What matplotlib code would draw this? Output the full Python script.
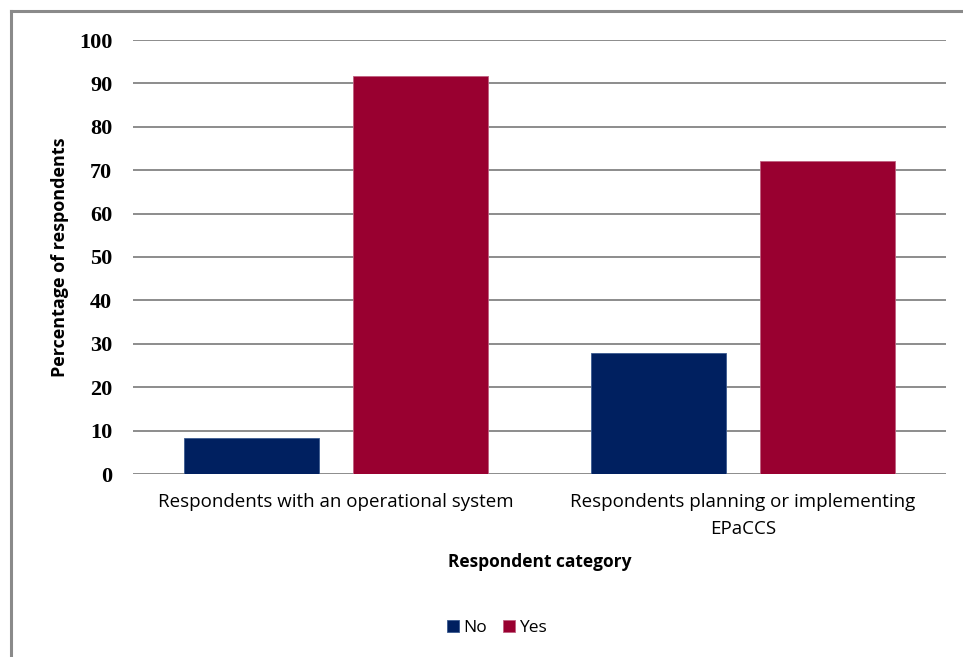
import matplotlib
matplotlib.use('Agg')
import matplotlib.pyplot as plt
import numpy as np
from matplotlib.lines import Line2D

categories = ['Respondents with an operational system',
              'Respondents planning or implementing\nEPaCCS']
no_values = [8.3, 27.8]
yes_values = [91.7, 72.2]
yticks = list(range(0, 101, 10))

NAVY = '#002060'
CRIMSON = '#990030'
GRID = '#8c8c8c'
SANS = ['Open Sans', 'DejaVu Sans']

fig = plt.figure(figsize=(9.63, 6.57), dpi=100)
ax = fig.add_axes([133 / 963, 183 / 657, (946 - 133) / 963, (474 - 40) / 657])

x = np.arange(len(categories))
width = 0.333
offset = 0.208
ax.bar(x - offset, no_values, width, color=NAVY, edgecolor='#3a5a8f', linewidth=0.6,
       label='No', zorder=3)
ax.bar(x + offset, yes_values, width, color=CRIMSON, edgecolor='#c06080', linewidth=0.6,
       label='Yes', zorder=3)

ax.set_xlim(-0.5, 1.5)
ax.set_ylim(0, 100)
ax.set_yticks(yticks)
ax.set_yticklabels([str(t) for t in yticks], family='Liberation Serif',
                   fontweight='bold', fontsize=16)
ax.set_xticks(x)
ax.set_xticklabels(categories, family=SANS, fontsize=13.5, linespacing=1.6)
ax.tick_params(axis='both', length=0)
ax.tick_params(axis='y', pad=15)
ax.tick_params(axis='x', pad=14)
for s in ax.spines.values():
    s.set_visible(False)
ax.yaxis.grid(True, color=GRID, linewidth=1.4, zorder=0)
ax.set_axisbelow(True)

fig.text(60 / 963, 1 - 257 / 657, 'Percentage of respondents', rotation=90,
         ha='center', va='center', family=SANS, fontweight='bold', fontsize=13)
fig.text(540 / 963, 1 - 562 / 657, 'Respondent category', ha='center', va='center',
         family=SANS, fontweight='bold', fontsize=12.5)

leg = fig.legend(loc='center', bbox_to_anchor=(497 / 963, 1 - 628 / 657), ncol=2,
                 frameon=False, handlelength=0.7, handleheight=0.7, handletextpad=0.25,
                 columnspacing=0.9, prop={'family': SANS, 'size': 12.5})

# outer chart border (top and left only visible)
fig.add_artist(Line2D([11 / 963, 11 / 963], [0, 1 - 11 / 657], color='#8a8a8a',
                      linewidth=2.2, transform=fig.transFigure))
fig.add_artist(Line2D([11 / 963, 1], [1 - 11 / 657, 1 - 11 / 657], color='#8a8a8a',
                      linewidth=2.2, transform=fig.transFigure))

fig.savefig('out.png', dpi=100)
